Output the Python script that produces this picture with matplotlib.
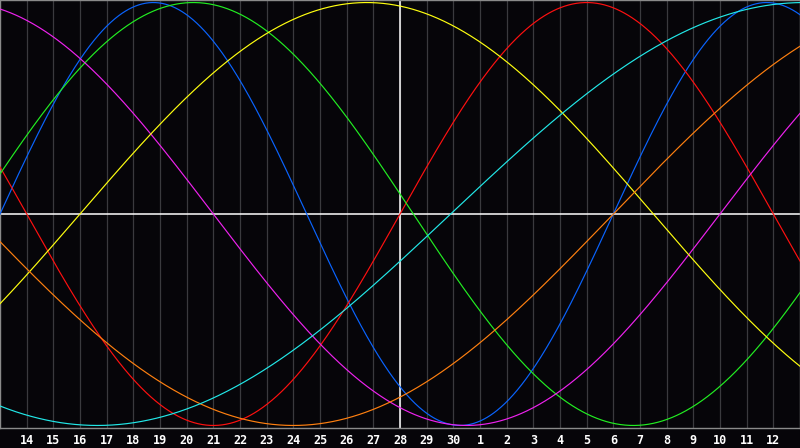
import matplotlib

matplotlib.use("Agg")
import matplotlib.pyplot as plt
import numpy as np

# day labels under the grid lines (index 1..29), window spans index 0..30
day_labels = [14, 15, 16, 17, 18, 19, 20, 21, 22, 23, 24, 25, 26, 27, 28,
              29, 30, 1, 2, 3, 4, 5, 6, 7, 8, 9, 10, 11, 12]
today_index = 15  # day 28

# cycle length (days) and the window index where each cycle rises through zero
periods = [23, 28, 33, 38, 43, 48, 53]
rising_zero = [0.0, 15.0, -1.0, 27.0, 3.0, 23.0, 16.9]
colors = ["#0a64ff", "#ff1010", "#22ee22", "#ee22ee", "#ffff10", "#ff8010", "#22e8e8"]

BG = "#060509"

fig = plt.figure(figsize=(8, 4.48), dpi=100, facecolor=BG)
ax = fig.add_axes([0, 20 / 448, 1, 428 / 448], facecolor=BG)

x = np.linspace(0, 30, 1200)
for i in range(1, 30):
    ax.axvline(i, color="#3a3a3e", lw=0.9, zorder=1)

for p, r, c in zip(periods, rising_zero, colors):
    ax.plot(x, np.sin(2 * np.pi * (x - r) / p), color=c, lw=0.85, zorder=3)

ax.axhline(0, color="white", lw=1.1, zorder=2)
ax.axvline(today_index, color="white", lw=1.1, zorder=2)

ax.set_xlim(0, 30)
ax.set_ylim(-1.012, 1.012)
ax.set_yticks([])
ax.set_xticks(range(1, 30))
ax.set_xticklabels([str(d) for d in day_labels], color="white",
                   fontsize=8.5, fontweight="bold", family="DejaVu Sans Mono")
ax.tick_params(axis="x", length=0, pad=4.5)
for s in ax.spines.values():
    s.set_color("#8a8a8a")
    s.set_linewidth(1)

fig.savefig("out.png", dpi=100, facecolor=BG)
